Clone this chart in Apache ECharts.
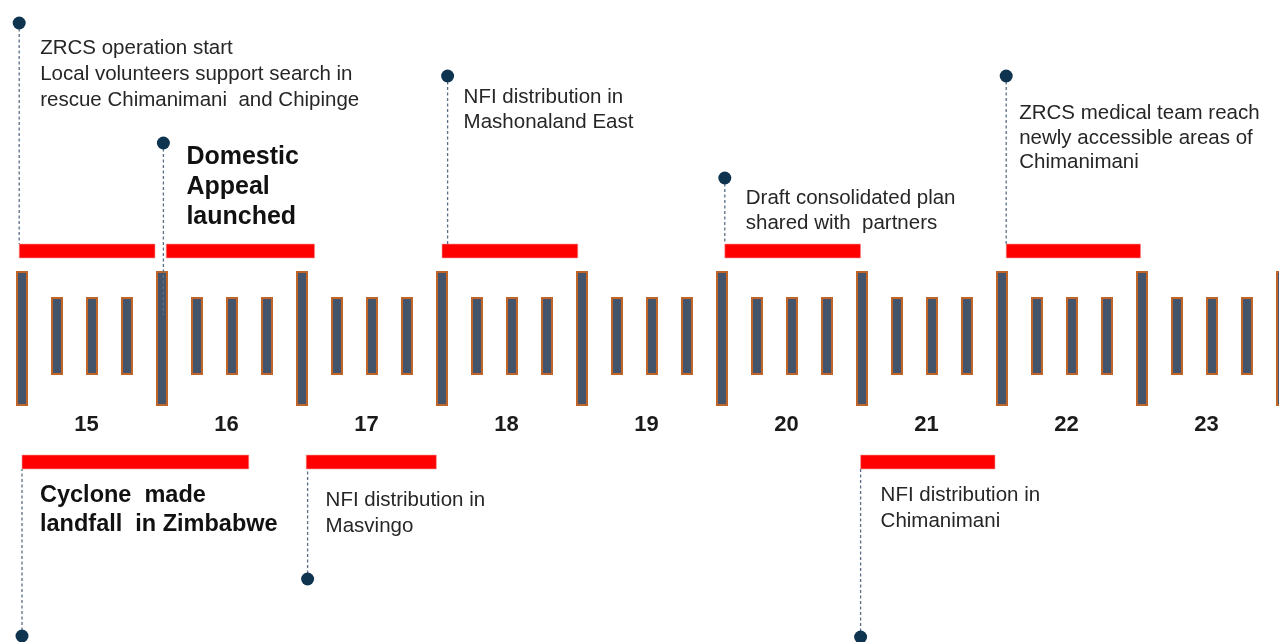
<!DOCTYPE html>
<html><head><meta charset="utf-8">
<script src="https://cdn.jsdelivr.net/npm/echarts@6/dist/echarts.min.js"></script>
<style>html,body{margin:0;padding:0;background:#fff;overflow:hidden}#c{width:1279px;height:642px}</style>
</head><body><div id="c"></div>
<script>
// ---- data ----
const days = [15, 16, 17, 18, 19, 20, 21, 22, 23];
const dayLabels = ['15', '16', '17', '18', '19', '20', '21', '22', '23'];
const eventNames = [
  'ZRCS operation start\nLocal volunteers support search in\nrescue Chimanimani  and Chipinge',
  'Domestic\nAppeal\nlaunched',
  'NFI distribution in\nMashonaland East',
  'Draft consolidated plan\nshared with  partners',
  'ZRCS medical team reach\nnewly accessible areas of\nChimanimani',
  'Cyclone  made\nlandfall  in Zimbabwe',
  'NFI distribution in\nMasvingo',
  'NFI distribution in\nChimanimani'
];
const eventStart  = [14.98, 16.03, 18.00, 20.02, 22.03, 15.00, 17.03, 20.99];
const eventEnd    = [15.95, 17.09, 18.97, 20.99, 22.99, 16.62, 17.96, 21.95];
const eventMarker = [14.98, 16.01, 18.04, 20.02, 22.03, 15.00, 17.04, 20.99];
const eventSide   = ['above', 'above', 'above', 'above', 'above', 'below', 'below', 'below'];
const eventBold   = [false, true, false, false, false, true, false, false];

// ---- layout (pixel-space y axis) ----
const layout = [
  {dotY: 23,  lineEnd: 244, dx: 21, top: 35,    lh: 26},
  {dotY: 143, lineEnd: 315, dx: 23, top: 142,   lh: 30},
  {dotY: 76,  lineEnd: 244, dx: 16, top: 84.5,  lh: 25},
  {dotY: 178, lineEnd: 244, dx: 21, top: 185.5, lh: 25},
  {dotY: 76,  lineEnd: 244, dx: 13, top: 101.5, lh: 24.5},
  {dotY: 636, lineEnd: 469, dx: 18, top: 481.5, lh: 29},
  {dotY: 579, lineEnd: 469, dx: 18, top: 487,   lh: 26},
  {dotY: 637, lineEnd: 469, dx: 20, top: 482,   lh: 26}
];
const FONT = '"Liberation Sans", Arial, sans-serif';
const redAbove = [244, 258], redBelow = [455, 469];
const major = [272, 405], minor = [298, 374];
const GRID_LEFT = 22, DAY_PX = 140, CHART_W = 1279;

// tick marks built from days (structure of the timeline)
const ticks = [];
days.forEach(d => { ticks.push([d, 1]); ticks.push([d + 0.25, 0]); ticks.push([d + 0.5, 0]); ticks.push([d + 0.75, 0]); });
ticks.push([days[days.length - 1] + 1, 1]);

const eventData = eventNames.map((n, i) => [eventStart[i], eventEnd[i], eventMarker[i], i]);

const chart = echarts.init(document.getElementById('c'), null, {renderer: 'canvas'});
chart.setOption({
  animation: false,
  backgroundColor: '#ffffff',
  grid: {left: GRID_LEFT, right: 0, top: 0, bottom: 0},
  xAxis: {type: 'value', min: days[0], max: days[0] + (CHART_W - GRID_LEFT) / DAY_PX, show: false},
  yAxis: {type: 'value', min: 0, max: 642, inverse: true, show: false},
  series: [
    {
      type: 'custom', z: 1, data: ticks, clip: false,
      renderItem: function (params, api) {
        const isMajor = api.value(1) === 1;
        const r = isMajor ? major : minor;
        const p0 = api.coord([api.value(0), r[0]]);
        const p1 = api.coord([api.value(0), r[1]]);
        return {
          type: 'rect',
          shape: {x: p0[0] - 5, y: p0[1], width: 10, height: p1[1] - p0[1]},
          style: {fill: '#44546a', stroke: '#c0652a', lineWidth: 2}
        };
      }
    },
    {
      type: 'custom', z: 2, data: days, clip: false,
      renderItem: function (params, api) {
        const p = api.coord([api.value(0) + 0.46, 425]);
        return {
          type: 'text',
          style: {text: dayLabels[params.dataIndex], x: p[0], y: p[1], align: 'center', verticalAlign: 'middle',
            fill: '#1a1a1a', font: 'bold 22px ' + FONT}
        };
      }
    },
    {
      type: 'custom', z: 3, data: eventData, clip: false,
      renderItem: function (params, api) {
        const i = api.value(3);
        const L = layout[i];
        const above = eventSide[i] === 'above';
        const rb = above ? redAbove : redBelow;
        const b0 = api.coord([api.value(0), rb[0]]);
        const b1 = api.coord([api.value(1), rb[1]]);
        const m = api.coord([api.value(2), L.dotY]);
        const le = api.coord([api.value(2), L.lineEnd]);
        const bold = eventBold[i];
        return {
          type: 'group',
          children: [
            {type: 'rect', z2: 1, shape: {x: b0[0], y: b0[1], width: b1[0] - b0[0], height: b1[1] - b0[1]},
              style: {fill: '#ff0000', stroke: '#f4a0a0', lineWidth: 0.6}},
            {type: 'line', z2: 2, shape: {x1: m[0], y1: m[1], x2: le[0], y2: le[1]},
              style: {stroke: '#5a6f85', lineWidth: 1.3, lineDash: [3, 2.5]}},
            {type: 'circle', z2: 3, shape: {cx: m[0], cy: m[1], r: 6.5}, style: {fill: '#0f3450'}},
            {type: 'text', z2: 4, style: {
              text: eventNames[i], x: m[0] + L.dx, y: L.top, align: 'left', verticalAlign: 'top',
              lineHeight: L.lh, fill: bold ? '#111111' : '#262626',
              font: (bold ? 'bold ' + (above ? 25 : 23.5) + 'px ' : '20.5px ') + FONT
            }}
          ]
        };
      }
    }
  ]
});
</script></body></html>
